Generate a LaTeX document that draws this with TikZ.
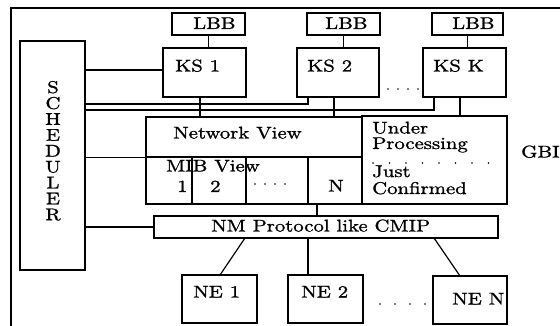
\documentclass[tikz,border=0pt]{standalone}
\usepackage{fontspec}
\setmainfont{lmroman10-regular.otf}[FakeStretch=1.22,FakeBold=1.2]
\begin{document}
\begin{tikzpicture}[x=1pt,y=-1pt,
  box/.style={draw, line width=1.2pt, inner sep=0pt},
  conn/.style={line width=1.2pt},
  txt/.style={inner sep=0pt, anchor=base west, font=\fontsize{17}{18}\selectfont}]
\useasboundingbox (0,0) rectangle (560,326);
\clip (0,0) rectangle (560,326);
% outer frame
\draw[line width=2pt] (10.5,340) -- (10.5,8.5) -- (600,8.5);
% boxes
\node[box, minimum width=73pt, minimum height=22pt] (lbb1) at (208.5,24) {};
\node[box, minimum width=73pt, minimum height=22pt] (lbb2) at (343.5,24) {};
\node[box, minimum width=71pt, minimum height=22pt] (lbb3) at (467.5,24) {};
\node[box, minimum width=83pt, minimum height=49pt] (ks1) at (204.5,72.5) {};
\node[box, minimum width=82pt, minimum height=49pt] (ks2) at (338,72.5) {};
\node[box, minimum width=83pt, minimum height=49pt] (ksk) at (464.5,72.5) {};
\node[box, minimum width=65pt, minimum height=229pt] (sched) at (52.5,155.5) {};
\node[box, minimum width=216pt, minimum height=40pt] (nv) at (254,137) {};
\node[box, minimum width=216pt, minimum height=47pt] (mib) at (254,180.5) {};
\node[box, minimum width=145pt, minimum height=88pt] (up) at (434.5,160) {};
\node[box, minimum width=344pt, minimum height=22pt] (nm) at (326,227) {};
\node[box, minimum width=75pt, minimum height=48pt] (ne1) at (219.5,299) {};
\node[box, minimum width=75pt, minimum height=48pt] (ne2) at (325.5,299) {};
\node[box, minimum width=74pt, minimum height=48pt] (nen) at (470,300) {};
% texts
\node[txt] (tl1) at (193,29) {LBB};
\node[txt] (tl2) at (325,29) {LBB};
\node[txt] (tl3) at (452,29) {LBB};
\node[txt] (tk1) at (175,71.5) {KS 1};
\node[txt] (tk2) at (307,71.5) {KS 2};
\node[txt] (tkk) at (433,71.5) {KS K};
\foreach \l [count=\i] in {S,C,H,E,D,U,L,E,R}
  \node[txt, anchor=base] (sch\i) at (53,93+15.9*\i-15.9) {\l};
\node[txt] (tnv) at (173,138.5) {Network View};
\node[txt] (tmib) at (166,171.5) {MIB View};
\node[txt] (tm1) at (177,192) {1};
\node[txt] (tm2) at (210,192) {2};
\node[txt] (tmn) at (328,191.5) {N};
\node[txt] (tu1) at (372,133.5) {Under};
\node[txt] (tu2) at (372,149) {Processing};
\node[txt] (tu3) at (372,177) {Just};
\node[txt] (tu4) at (372,194) {Confirmed};
\node[txt] (tgbi) at (521,157.5) {GBI};
\node[txt] (tnm) at (211,231.5) {NM Protocol like CMIP};
\node[txt] (tn1) at (193,297.5) {NE 1};
\node[txt] (tn2) at (301,297.5) {NE 2};
\node[txt] (tnn) at (452,304.5) {NE N};
% MIB dividers
\coordinate (d1) at (192,157); \coordinate (d2) at (246,157); \coordinate (d3) at (308,157);
\draw[conn] (d1) -- (d1 |- mib.south);
\draw[conn] (d2) -- (d2 |- mib.south);
\draw[conn] (d3) -- (d3 |- mib.south);
% dots
\foreach \x in {255,265,275,285} \fill (\x,184) circle[radius=0.8pt];
\foreach \x in {388,398,408,418} \fill (\x,89) circle[radius=0.8pt];
\foreach \x in {380,395,410,425} \fill (\x,304) circle[radius=0.8pt];
\foreach \x in {373,389.5,406,422.5,439,455.5,472,488.5} \fill (\x,163) circle[radius=0.8pt];
% LBB - KS
\draw[conn] (lbb1.south) -- (lbb1.south |- ks1.north);
\draw[conn] (lbb2.south) -- (lbb2.south |- ks2.north);
\draw[conn] (lbb3.south) -- (lbb3.south |- ksk.north);
% scheduler connections
\coordinate (s1) at (85,70);
\draw[conn] (s1) -- (s1 -| ks1.west);
\coordinate (b1) at (308,104);
\draw[conn] (sched.east |- b1) -- (b1) -- (b1 |- ks2.south);
\coordinate (b2) at (434,110);
\draw[conn] (sched.east |- b2) -- (b2) -- (b2 |- ksk.south);
\draw[conn] (sched.east |- nv.south west) -- (nv.south west);
\draw[conn] (sched.east |- nm.west) -- (nm.west);
% KS drops
\coordinate (k1) at (200,97); \coordinate (k2) at (334,97); \coordinate (k3) at (460,97);
\draw[conn] (k1) -- (k1 |- nv.north);
\draw[conn] (k2) -- (k2 |- nv.north);
\draw[conn] (k3) -- (k3 |- up.north);
% MIB N to NM
\coordinate (mn) at (317,204);
\draw[conn] (mn) -- (mn |- nm.north);
% NM to NEs
\coordinate (n1) at (245,238); \coordinate (n2) at (308,238); \coordinate (n3) at (434,238);
\coordinate (e1) at (220,275); \coordinate (e2) at (308,275); \coordinate (e3) at (460,276);
\draw[conn] (n1) -- (e1);
\draw[conn] (n2) -- (e2);
\draw[conn] (n3) -- (e3);
\end{tikzpicture}
\end{document}
